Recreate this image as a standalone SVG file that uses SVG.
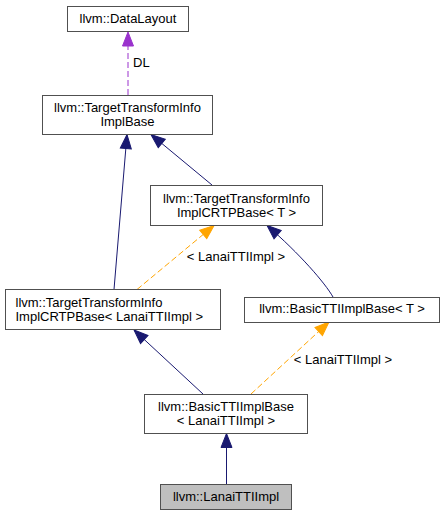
<svg xmlns="http://www.w3.org/2000/svg" width="445" height="516" viewBox="0 0 445 516">
<style>
.box{fill:#ffffff;stroke:#505050;stroke-width:1}
.cur{fill:#bfbfbf;stroke:#505050;stroke-width:1}
text{font-family:"Liberation Sans",Arial,sans-serif;font-size:13px;fill:#000}
.c{text-anchor:middle}
.inh{fill:none;stroke:#191970;stroke-width:1}
.tpl{fill:none;stroke:#ffa500;stroke-width:1;stroke-dasharray:6,3}
.use{fill:none;stroke:#9a32cd;stroke-width:1;stroke-dasharray:6,3}
</style>
<defs>
<marker id="aBlue" markerUnits="userSpaceOnUse" markerWidth="15" markerHeight="12" refX="14" refY="5.5" orient="auto" overflow="visible"><path d="M0,0 L14,5.5 L0,11 z" fill="#191970" stroke="#191970" stroke-width="1"/></marker>
<marker id="aOrange" markerUnits="userSpaceOnUse" markerWidth="15" markerHeight="12" refX="14" refY="5.5" orient="auto" overflow="visible"><path d="M0,0 L14,5.5 L0,11 z" fill="#ffa500" stroke="#ffa500" stroke-width="1"/></marker>
<marker id="aPurple" markerUnits="userSpaceOnUse" markerWidth="15" markerHeight="12" refX="14" refY="5.5" orient="auto" overflow="visible"><path d="M0,0 L14,5.5 L0,11 z" fill="#9a32cd" stroke="#9a32cd" stroke-width="1"/></marker>
</defs>
<g id="edges">
<path class="use" d="M128,95 L128,32" marker-end="url(#aPurple)"/>
<text x="133" y="67">DL</text>
<path class="inh" d="M212,185 L151,134.5" marker-end="url(#aBlue)"/>
<path class="inh" d="M114,289.5 L127,134.5" marker-end="url(#aBlue)"/>
<path class="tpl" d="M137,289.5 L214,225.5" marker-end="url(#aOrange)"/>
<text class="c" x="236" y="261">&lt; LanaiTTIImpl &gt;</text>
<path class="inh" d="M333,297 C325,283 300,254 267,225.5" marker-end="url(#aBlue)"/>
<path class="inh" d="M203,394 L134,330" marker-end="url(#aBlue)"/>
<path class="tpl" d="M251,394 L329,322" marker-end="url(#aOrange)"/>
<text class="c" x="343" y="364">&lt; LanaiTTIImpl &gt;</text>
<path class="inh" d="M226.5,484 L226.5,433.5" marker-end="url(#aBlue)"/>
</g>
<g id="DataLayout">
<rect class="box" x="67.5" y="6.5" width="121" height="25"/>
<text class="c" x="128" y="22.5">llvm::DataLayout</text>
</g>
<g id="TTIImplBase">
<rect class="box" x="42.5" y="95.5" width="170" height="39"/>
<text class="c" x="127.5" y="112">llvm::TargetTransformInfo</text>
<text class="c" x="127.5" y="126">ImplBase</text>
</g>
<g id="TTIImplCRTPBaseT">
<rect class="box" x="150.5" y="185.5" width="172" height="40"/>
<text class="c" x="236.5" y="202.5">llvm::TargetTransformInfo</text>
<text class="c" x="236.5" y="216.5">ImplCRTPBase&lt; T &gt;</text>
</g>
<g id="TTIImplCRTPBaseLanai">
<rect class="box" x="5.5" y="289.5" width="215" height="40"/>
<text x="15.5" y="306.5">llvm::TargetTransformInfo</text>
<text x="15.5" y="320.5">ImplCRTPBase&lt; LanaiTTIImpl &gt;</text>
</g>
<g id="BasicTTIImplBaseT">
<rect class="box" x="244.5" y="297.5" width="195" height="25"/>
<text class="c" x="342" y="313">llvm::BasicTTIImplBase&lt; T &gt;</text>
</g>
<g id="BasicTTIImplBaseLanai">
<rect class="box" x="144.5" y="394.5" width="163" height="39"/>
<text class="c" x="226" y="411">llvm::BasicTTIImplBase</text>
<text class="c" x="226" y="425">&lt; LanaiTTIImpl &gt;</text>
</g>
<g id="LanaiTTIImpl">
<rect class="cur" x="160.5" y="484.5" width="131" height="25"/>
<text class="c" x="226" y="500.5">llvm::LanaiTTIImpl</text>
</g>
</svg>
